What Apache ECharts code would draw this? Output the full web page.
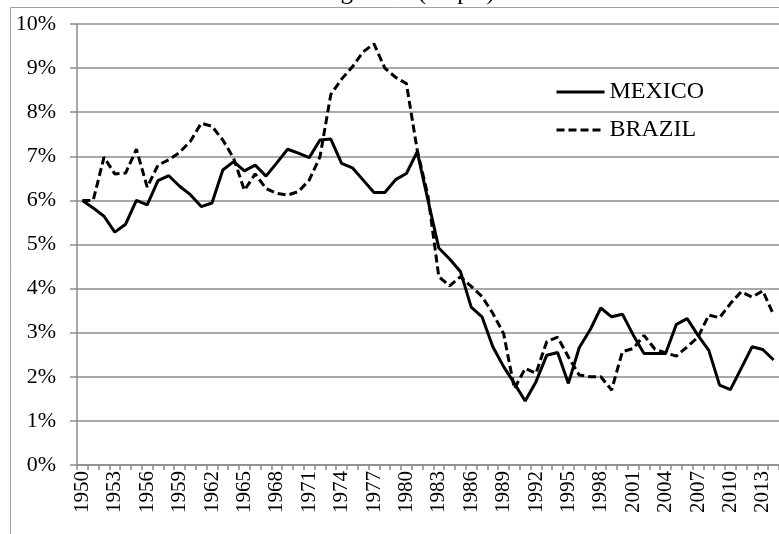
<!DOCTYPE html>
<html>
<head>
<meta charset="utf-8">
<script src="https://cdn.jsdelivr.net/npm/echarts@6/dist/echarts.min.js"></script>
<style>
html,body{margin:0;padding:0;background:#fff;}
#chart{width:779px;height:534px;}
</style>
</head>
<body>
<div id="chart"></div>
<script>
const years = ['1950','1951','1952','1953','1954','1955','1956','1957','1958','1959',
'1960','1961','1962','1963','1964','1965','1966','1967','1968','1969',
'1970','1971','1972','1973','1974','1975','1976','1977','1978','1979',
'1980','1981','1982','1983','1984','1985','1986','1987','1988','1989',
'1990','1991','1992','1993','1994','1995','1996','1997','1998','1999',
'2000','2001','2002','2003','2004','2005','2006','2007','2008','2009',
'2010','2011','2012','2013','2014'];

const mexico = [6.0,5.83,5.64,5.28,5.46,6.0,5.9,6.45,6.56,6.32,
6.13,5.86,5.94,6.69,6.88,6.67,6.8,6.55,6.85,7.16,
7.07,6.97,7.37,7.39,6.84,6.74,6.46,6.18,6.18,6.47,
6.61,7.1,6.0,4.92,4.67,4.39,3.58,3.36,2.68,2.23,
1.85,1.45,1.89,2.49,2.55,1.85,2.66,3.06,3.56,3.36,
3.42,2.95,2.53,2.53,2.53,3.19,3.32,2.94,2.6,1.81,
1.71,2.19,2.68,2.62,2.38];

const brazil = [6.0,6.0,6.98,6.6,6.62,7.16,6.3,6.8,6.92,7.09,
7.34,7.75,7.68,7.37,6.96,6.23,6.6,6.27,6.16,6.12,
6.2,6.46,6.99,8.4,8.75,9.03,9.37,9.55,9.0,8.79,
8.65,7.14,6.1,4.27,4.06,4.27,4.05,3.82,3.44,2.98,
1.73,2.19,2.08,2.8,2.9,2.45,2.04,2.0,2.0,1.7,
2.57,2.64,2.94,2.63,2.54,2.47,2.68,2.9,3.4,3.34,
3.66,3.93,3.81,3.95,3.4];

const yTicks = [0,1,2,3,4,5,6,7,8,9,10];

const FONT = 'Liberation Serif';
const GRAY = '#8c8c8c';

const chart = echarts.init(document.getElementById('chart'), null, {renderer:'canvas'});
chart.setOption({
  animation:false,
  backgroundColor:'#fff',
  title:{
    text:'GDP growth (10 pts)',
    left:'center',
    top:-25,
    textStyle:{fontFamily:FONT,fontSize:25,fontWeight:'normal',color:'#000'}
  },
  graphic:[{
    type:'rect',
    shape:{x:10.5,y:7.5,width:900,height:700},
    style:{fill:null,stroke:'#a0a0a0',lineWidth:1},
    silent:true,
    z:-1
  }],
  legend:{
    orient:'vertical',
    left:550,
    top:75,
    itemWidth:48,
    itemHeight:14,
    itemGap:14,
    itemStyle:{opacity:0},
    lineStyle:{width:3},
    textStyle:{fontFamily:FONT,fontSize:24,color:'#000'},
    data:['MEXICO','BRAZIL']
  },
  grid:{left:77,top:24,right:-6,bottom:69,containLabel:false},
  xAxis:{
    type:'category',
    data:years,
    boundaryGap:true,
    axisLine:{lineStyle:{color:GRAY,width:1.5}},
    axisTick:{show:true,interval:0,length:5,lineStyle:{color:GRAY,width:1.5}},
    axisLabel:{interval:2,rotate:90,margin:6,fontFamily:FONT,fontSize:21,color:'#000'},
    splitLine:{show:false}
  },
  yAxis:{
    type:'value',
    min:yTicks[0],
    max:yTicks[yTicks.length-1],
    interval:1,
    axisLine:{show:true,lineStyle:{color:GRAY,width:1.5}},
    axisTick:{show:true,length:7,lineStyle:{color:GRAY,width:1.5}},
    axisLabel:{formatter:'{value}%',margin:21,fontFamily:FONT,fontSize:22,color:'#000'},
    splitLine:{show:true,lineStyle:{color:GRAY,width:1.5}}
  },
  series:[
    {
      name:'MEXICO',type:'line',data:mexico,
      showSymbol:false,symbol:'none',
      lineStyle:{color:'#000',width:3,type:'solid'},
      itemStyle:{color:'#000'}
    },
    {
      name:'BRAZIL',type:'line',data:brazil,
      showSymbol:false,symbol:'none',
      lineStyle:{color:'#000',width:3,type:[8,4]},
      itemStyle:{color:'#000'}
    }
  ]
});
</script>
</body>
</html>
